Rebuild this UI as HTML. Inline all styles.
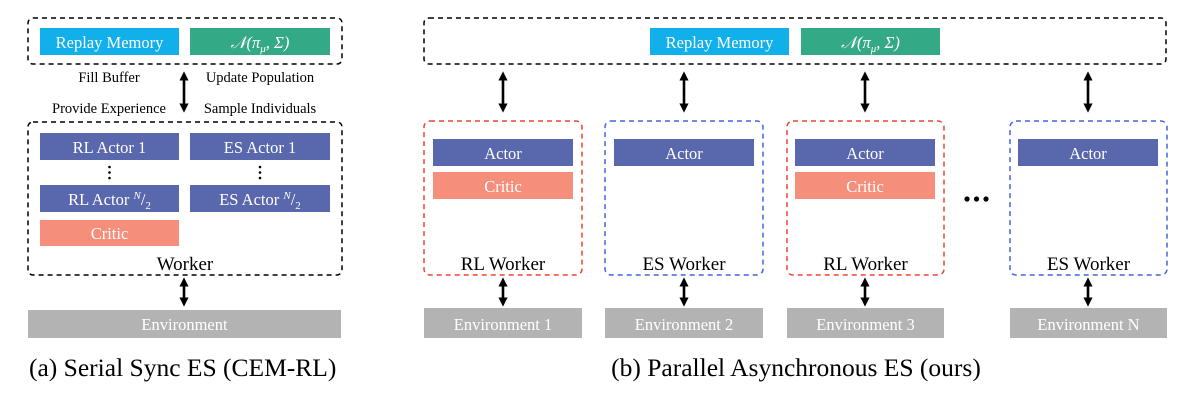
<!DOCTYPE html>
<html><head><meta charset="utf-8"><style>
body{margin:0;background:#fff}
svg{display:block}
text{font-family:"Liberation Serif",serif}
</style></head><body>
<svg width="1194" height="403" viewBox="0 0 1194 403" xmlns="http://www.w3.org/2000/svg">
<defs>
<marker id="a" viewBox="0 0 10 10" refX="4" refY="5" markerWidth="3.6" markerHeight="3.6" orient="auto-start-reverse"><path d="M0,0 L10,5 L0,10 z" fill="#000"/></marker>
</defs>
<g fill="none" stroke-width="1.5" stroke-dasharray="5,4">
<rect x="28" y="18" width="314" height="46" rx="5" stroke="#000"/>
<rect x="28" y="122" width="314" height="153" rx="5" stroke="#000"/>
<rect x="424" y="18" width="742" height="46" rx="5" stroke="#000"/>
<rect x="424" y="121" width="158" height="154" rx="6" stroke="#ee4433"/>
<rect x="605" y="121" width="158" height="154" rx="6" stroke="#4466dd"/>
<rect x="787" y="121" width="157" height="154" rx="6" stroke="#ee4433"/>
<rect x="1010" y="121" width="157" height="154" rx="6" stroke="#4466dd"/>
</g>
<g font-size="16.5" fill="#fff" text-anchor="middle">
<rect x="40" y="28" width="139" height="27" fill="#12b0ea"/><text x="109.5" y="48">Replay Memory</text>
<rect x="190" y="28" width="140" height="27" fill="#33a985"/><text x="260" y="48" font-style="italic">𝒩(π<tspan font-size="11" dy="4">μ</tspan><tspan dy="-4">, Σ)</tspan></text>
<rect x="40" y="133" width="139" height="27" fill="#5967ad"/><text x="109.5" y="153">RL Actor 1</text>
<rect x="190" y="133" width="140" height="27" fill="#5967ad"/><text x="260" y="153">ES Actor 1</text>
<rect x="40" y="185" width="139" height="27" fill="#5967ad"/><text x="109.5" y="205">RL Actor <tspan font-size="11" font-style="italic" dy="-6">N</tspan><tspan dy="6">/</tspan><tspan font-size="11" dy="4">2</tspan></text>
<rect x="190" y="185" width="140" height="27" fill="#5967ad"/><text x="260" y="205">ES Actor <tspan font-size="11" font-style="italic" dy="-6">N</tspan><tspan dy="6">/</tspan><tspan font-size="11" dy="4">2</tspan></text>
<rect x="40" y="220" width="139" height="26" fill="#f68e7c"/><text x="109.5" y="239">Critic</text>
<rect x="28" y="310" width="313" height="28" fill="#b3b3b3"/><text x="184.5" y="330">Environment</text>

<rect x="650" y="28" width="139" height="27" fill="#12b0ea"/><text x="719.5" y="48">Replay Memory</text>
<rect x="801" y="28" width="139" height="27" fill="#33a985"/><text x="870.5" y="48" font-style="italic">𝒩(π<tspan font-size="11" dy="4">μ</tspan><tspan dy="-4">, Σ)</tspan></text>

<rect x="433" y="139" width="140" height="27" fill="#5967ad"/><text x="503" y="159">Actor</text>
<rect x="433" y="172" width="140" height="27" fill="#f68e7c"/><text x="503" y="192">Critic</text>
<rect x="614" y="139" width="140" height="27" fill="#5967ad"/><text x="684" y="159">Actor</text>
<rect x="795" y="139" width="140" height="27" fill="#5967ad"/><text x="865" y="159">Actor</text>
<rect x="795" y="172" width="140" height="27" fill="#f68e7c"/><text x="865" y="192">Critic</text>
<rect x="1018" y="139" width="140" height="27" fill="#5967ad"/><text x="1088" y="159">Actor</text>

<rect x="424" y="308" width="158" height="30" fill="#b3b3b3"/><text x="503" y="330">Environment 1</text>
<rect x="605" y="308" width="158" height="30" fill="#b3b3b3"/><text x="684" y="330">Environment 2</text>
<rect x="787" y="308" width="157" height="30" fill="#b3b3b3"/><text x="865.5" y="330">Environment 3</text>
<rect x="1010" y="308" width="157" height="30" fill="#b3b3b3"/><text x="1088.5" y="330">Environment N</text>
</g>
<g font-size="14.5" text-anchor="middle" fill="#000">
<text x="109" y="82">Fill Buffer</text>
<text x="260" y="82">Update Population</text>
<text x="109" y="113">Provide Experience</text>
<text x="260" y="113">Sample Individuals</text>
</g>
<g font-size="19" text-anchor="middle" fill="#000">
<text x="185" y="270">Worker</text>
<text x="503" y="270">RL Worker</text>
<text x="684" y="270">ES Worker</text>
<text x="865.5" y="270">RL Worker</text>
<text x="1088.5" y="270">ES Worker</text>
</g>
<g fill="#000">
<circle cx="109.5" cy="167" r="1.3"/><circle cx="109.5" cy="172.5" r="1.3"/><circle cx="109.5" cy="178" r="1.3"/>
<circle cx="260" cy="167" r="1.3"/><circle cx="260" cy="172.5" r="1.3"/><circle cx="260" cy="178" r="1.3"/>
<circle cx="967" cy="199" r="2.6"/><circle cx="976.5" cy="199" r="2.6"/><circle cx="986" cy="199" r="2.6"/></g>
<g stroke="#000" stroke-width="2.6" marker-start="url(#a)" marker-end="url(#a)">
<line x1="184" y1="77" x2="184" y2="107"/>
<line x1="184" y1="283" x2="184" y2="301"/>
<line x1="503" y1="77" x2="503" y2="107"/>
<line x1="684" y1="77" x2="684" y2="107"/>
<line x1="865" y1="77" x2="865" y2="107"/>
<line x1="1088" y1="77" x2="1088" y2="107"/>
<line x1="503" y1="283" x2="503" y2="301"/>
<line x1="684" y1="283" x2="684" y2="301"/>
<line x1="865" y1="283" x2="865" y2="301"/>
<line x1="1088" y1="283" x2="1088" y2="301"/>
</g>
<g font-size="25.5" fill="#000">
<text x="29" y="376">(a) Serial Sync ES (CEM-RL)</text>
<text x="796" y="376" text-anchor="middle">(b) Parallel Asynchronous ES (ours)</text>
</g>
</svg>
</body></html>
